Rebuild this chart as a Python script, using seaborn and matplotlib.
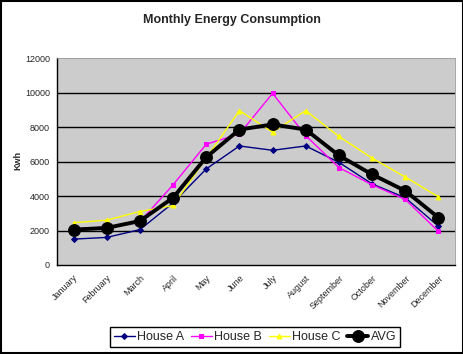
# Monthly energy consumption - three houses and their average
import matplotlib
matplotlib.use("Agg")
import matplotlib.pyplot as plt
from matplotlib.patches import Rectangle
import seaborn as sns
import pandas as pd

months = ["January", "February", "March", "April", "May", "June", "July",
          "August", "September", "October", "November", "December"]
house_a = [1500, 1600, 2050, 3600, 5570, 6900, 6650, 6900, 5950, 4700, 3900, 2250]
house_b = [2100, 2200, 2500, 4650, 7000, 7600, 9950, 7500, 5650, 4650, 3800, 1950]
house_c = [2450, 2600, 3100, 3450, 6200, 8950, 7700, 8950, 7450, 6200, 5100, 3950]
avg = [2050, 2150, 2550, 3900, 6250, 7850, 8150, 7850, 6350, 5250, 4300, 2750]
y_ticks = [0, 2000, 4000, 6000, 8000, 10000, 12000]

sns.set_style("white")
plt.rcParams["font.family"] = ["Liberation Sans", "DejaVu Sans"]

fig = plt.figure(figsize=(4.64, 3.54), dpi=100)
ax = fig.add_axes([57 / 464, 1 - 265 / 354, 398 / 464, 207 / 354])
ax.set_facecolor("#cccccc")

df = pd.DataFrame({"month": months, "House A": house_a, "House B": house_b,
                   "House C": house_c, "AVG": avg})

# grid lines behind the series
for v in y_ticks[1:-1]:
    ax.axhline(v, color="black", lw=1, zorder=1)

styles = [
    ("House A", "#000080", "D", 3, 1.0),
    ("House B", "#ff00ff", "s", 3.5, 1.0),
    ("House C", "#ffff00", "^", 3.5, 1.0),
    ("AVG", "black", "o", 8.5, 2.8),
]
for name, col, mk, ms, lw in styles:
    sns.lineplot(data=df, x="month", y=name, ax=ax, color=col, marker=mk,
                 markersize=ms, linewidth=lw, markeredgecolor=col,
                 label=name, sort=False, zorder=3)

ax.set_xlim(-0.5, 11.5)
ax.set_ylim(0, 12000)
ax.set_yticks(y_ticks)
ax.set_yticklabels([str(v) for v in y_ticks], fontsize=6.5)
ax.set_xticks(range(12))
ax.set_xticklabels(months, rotation=45, ha="right", rotation_mode="anchor",
                   fontsize=6.5)
ax.set_xticks([i - 0.5 for i in range(13)], minor=True)
ax.tick_params(axis="x", which="major", length=0, pad=6)
ax.tick_params(axis="x", which="minor", length=3, direction="out", color="black")
ax.tick_params(axis="y", length=3, direction="out", color="black", pad=2)
ax.set_xlabel("")
ax.set_ylabel("")
for s in ["left", "bottom"]:
    ax.spines[s].set_color("black")
    ax.spines[s].set_linewidth(1)
for s in ["top", "right"]:
    ax.spines[s].set_color("#999999")
    ax.spines[s].set_linewidth(0.6)

fig.text(0.5, 1 - 20 / 354, "Monthly Energy Consumption", ha="center",
         va="center", fontsize=9, fontweight="bold")
fig.text(18 / 464, 1 - 160 / 354, "Kwh", ha="center", va="center",
         rotation=90, fontsize=6.5, fontweight="bold")

ax.get_legend().remove()
handles, labels = ax.get_legend_handles_labels()
leg = fig.legend(handles, labels, ncol=4, loc="center",
                 bbox_to_anchor=(255 / 464, 1 - 337 / 354), fontsize=9,
                 frameon=True, fancybox=False, edgecolor="black",
                 handlelength=1.7, handletextpad=0.2, columnspacing=0.5,
                 borderpad=0.3, framealpha=1)
leg.get_frame().set_linewidth(1)

fig.add_artist(Rectangle((0.002, 0.003), 0.996, 0.994, transform=fig.transFigure,
                         fill=False, edgecolor="black", linewidth=1.5))

fig.savefig("out.png", dpi=100)
